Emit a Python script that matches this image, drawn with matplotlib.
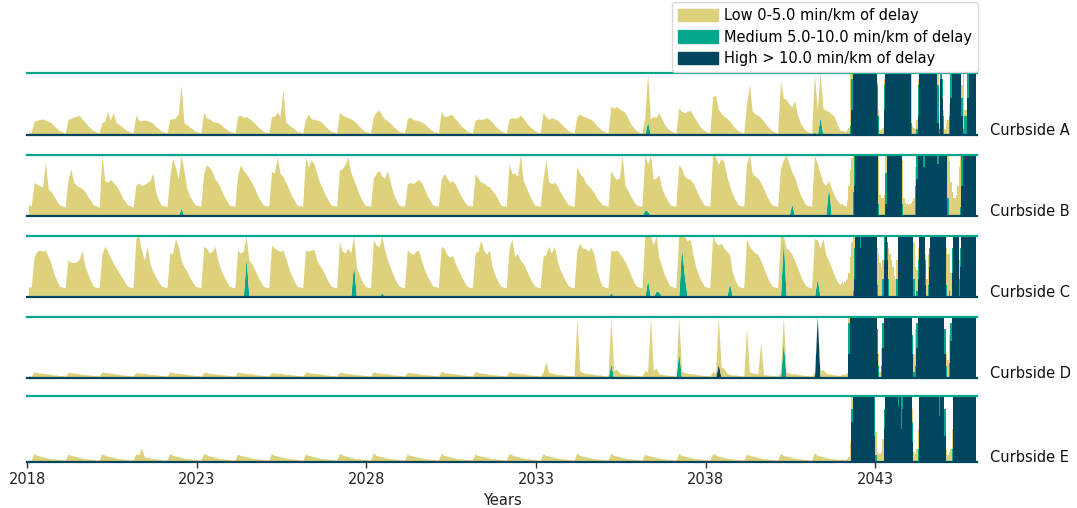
import numpy as np
import matplotlib.pyplot as plt
from matplotlib.patches import Patch

low_color = "#ddd17c"
medium_color = "#03a88b"
high_color = "#01455f"

curbsides = ["Curbside A", "Curbside B", "Curbside C", "Curbside D", "Curbside E"]
tick_years = [2018, 2023, 2028, 2033, 2038, 2043]

# Monthly share of the day in "low" delay (percent), one row per year 2018-2041
a_low = [
    [5, 4, 22, 24, 25, 26, 24, 22, 20, 15, 11, 7],
    [5, 3, 25, 27, 29, 30, 32, 26, 21, 15, 11, 7],
    [5, 3, 20, 22, 38, 24, 36, 20, 17, 14, 10, 7],
    [5, 3, 32, 24, 23, 24, 23, 22, 19, 14, 10, 6],
    [5, 3, 26, 26, 28, 34, 81, 20, 17, 13, 10, 6],
    [5, 3, 37, 27, 26, 22, 21, 20, 17, 13, 10, 6],
    [5, 3, 30, 32, 28, 30, 27, 23, 19, 14, 10, 6],
    [5, 3, 30, 30, 37, 30, 73, 21, 17, 13, 10, 6],
    [5, 3, 26, 34, 26, 25, 24, 23, 19, 14, 10, 6],
    [5, 3, 37, 32, 30, 28, 26, 23, 19, 14, 10, 6],
    [5, 3, 30, 37, 40, 32, 26, 23, 19, 14, 10, 6],
    [5, 3, 26, 29, 25, 24, 23, 21, 18, 14, 10, 6],
    [5, 3, 38, 30, 30, 33, 32, 26, 21, 15, 11, 7],
    [5, 3, 24, 26, 25, 26, 28, 25, 21, 15, 11, 7],
    [5, 3, 26, 28, 27, 28, 32, 27, 21, 15, 11, 7],
    [5, 3, 36, 30, 25, 28, 26, 24, 20, 15, 11, 7],
    [5, 3, 30, 34, 30, 29, 27, 25, 21, 15, 11, 7],
    [5, 3, 46, 43, 46, 42, 40, 36, 28, 18, 12, 7],
    [5, 3, 30, 78, 26, 30, 28, 36, 26, 17, 11, 7],
    [5, 3, 44, 38, 36, 38, 40, 32, 25, 17, 11, 7],
    [5, 3, 62, 64, 42, 35, 30, 27, 23, 16, 11, 7],
    [5, 3, 50, 82, 38, 34, 32, 28, 23, 16, 11, 7],
    [5, 3, 87, 60, 57, 50, 45, 56, 32, 20, 12, 7],
    [5, 3, 93, 40, 71, 43, 40, 38, 34, 30, 18, 8],
]
b_low = [
    [18, 17, 55, 52, 50, 47, 89, 44, 40, 33, 25, 18],
    [17, 14, 60, 77, 55, 50, 48, 45, 40, 32, 25, 18],
    [17, 14, 97, 58, 55, 60, 55, 50, 42, 33, 25, 18],
    [17, 14, 50, 54, 50, 52, 55, 58, 70, 40, 26, 18],
    [17, 15, 64, 95, 80, 60, 87, 75, 45, 33, 25, 18],
    [17, 16, 70, 84, 80, 72, 60, 55, 45, 34, 26, 18],
    [17, 16, 67, 84, 75, 70, 62, 55, 45, 34, 26, 18],
    [17, 16, 73, 70, 97, 70, 65, 55, 45, 34, 26, 18],
    [17, 16, 97, 80, 92, 86, 70, 55, 45, 34, 26, 18],
    [17, 16, 75, 78, 85, 97, 72, 60, 48, 35, 26, 18],
    [17, 16, 62, 70, 75, 65, 62, 75, 55, 38, 27, 18],
    [17, 16, 52, 55, 53, 56, 60, 55, 45, 34, 26, 18],
    [17, 16, 60, 70, 62, 55, 58, 52, 42, 33, 25, 18],
    [17, 16, 70, 62, 56, 54, 50, 48, 42, 36, 28, 18],
    [17, 16, 86, 70, 70, 65, 100, 58, 48, 36, 27, 18],
    [17, 16, 60, 92, 56, 53, 55, 50, 40, 33, 25, 18],
    [17, 16, 81, 70, 65, 55, 50, 45, 38, 30, 24, 18],
    [17, 16, 75, 65, 60, 62, 100, 50, 42, 32, 25, 18],
    [17, 16, 90, 77, 100, 60, 62, 68, 45, 34, 26, 18],
    [17, 16, 84, 78, 65, 62, 60, 55, 45, 34, 26, 18],
    [17, 16, 96, 97, 84, 95, 88, 65, 50, 36, 27, 18],
    [17, 16, 86, 100, 70, 65, 62, 55, 45, 34, 26, 18],
    [17, 16, 78, 92, 100, 86, 52, 64, 48, 35, 26, 18],
    [17, 16, 100, 86, 70, 55, 50, 10, 45, 34, 26, 20],
]
c_low = [
    [17, 16, 66, 75, 77, 75, 77, 66, 55, 38, 27, 18],
    [16, 15, 61, 57, 56, 58, 62, 77, 50, 38, 27, 18],
    [16, 15, 70, 83, 75, 65, 55, 48, 40, 33, 25, 18],
    [16, 15, 96, 100, 77, 60, 83, 55, 42, 33, 25, 18],
    [16, 15, 72, 72, 96, 83, 60, 50, 42, 33, 25, 18],
    [16, 15, 83, 80, 72, 75, 83, 60, 45, 35, 26, 18],
    [16, 15, 77, 72, 75, 36, 60, 55, 45, 35, 26, 18],
    [16, 15, 85, 80, 77, 75, 77, 65, 48, 36, 26, 18],
    [16, 15, 77, 75, 77, 78, 60, 52, 45, 35, 26, 18],
    [16, 15, 91, 75, 72, 80, 72, 45, 50, 36, 26, 18],
    [16, 15, 93, 85, 82, 93, 77, 60, 48, 36, 26, 18],
    [16, 15, 77, 72, 70, 75, 77, 60, 45, 35, 26, 18],
    [17, 16, 83, 80, 70, 65, 68, 55, 45, 35, 26, 18],
    [16, 15, 72, 75, 93, 77, 70, 77, 50, 36, 26, 18],
    [16, 15, 80, 95, 66, 72, 60, 55, 45, 35, 26, 18],
    [16, 15, 66, 70, 83, 72, 83, 60, 45, 35, 26, 18],
    [16, 15, 77, 88, 80, 80, 75, 82, 70, 45, 28, 18],
    [16, 15, 70, 75, 77, 72, 65, 58, 48, 36, 26, 18],
    [16, 15, 100, 72, 100, 85, 90, 57, 50, 36, 26, 18],
    [16, 15, 100, 17, 65, 92, 95, 70, 50, 36, 26, 18],
    [16, 15, 100, 90, 85, 88, 80, 75, 47, 40, 27, 18],
    [16, 15, 96, 83, 77, 72, 70, 60, 48, 36, 26, 18],
    [16, 15, 100, 4, 80, 77, 70, 60, 48, 36, 26, 18],
    [16, 15, 96, 62, 80, 96, 70, 60, 48, 36, 26, 20],
]
d_low = [
    [4, 3, 10, 9, 8, 8, 7, 7, 6, 5, 5, 4],
    [4, 3, 9, 9, 8, 8, 7, 6, 6, 5, 5, 4],
    [4, 3, 10, 9, 9, 8, 7, 7, 6, 5, 5, 4],
    [4, 3, 9, 8, 8, 8, 7, 6, 6, 5, 5, 4],
    [4, 3, 10, 9, 8, 8, 7, 7, 6, 5, 5, 4],
    [4, 3, 9, 9, 8, 7, 7, 6, 6, 5, 5, 4],
    [4, 3, 10, 9, 8, 8, 7, 7, 6, 5, 5, 4],
    [4, 3, 9, 8, 8, 8, 7, 6, 6, 5, 5, 4],
    [4, 3, 10, 9, 8, 8, 7, 7, 6, 5, 5, 4],
    [4, 3, 9, 9, 8, 7, 7, 6, 6, 5, 5, 4],
    [4, 3, 10, 9, 8, 8, 7, 7, 6, 5, 5, 4],
    [4, 3, 9, 9, 8, 8, 7, 6, 6, 5, 5, 4],
    [4, 3, 11, 9, 8, 8, 7, 7, 6, 5, 5, 4],
    [4, 3, 11, 9, 8, 8, 7, 6, 6, 5, 5, 4],
    [4, 3, 11, 9, 8, 8, 7, 7, 6, 5, 5, 4],
    [4, 3, 9, 27, 9, 8, 7, 6, 6, 5, 5, 4],
    [4, 3, 97, 12, 9, 8, 7, 7, 6, 5, 5, 4],
    [4, 3, 77, 12, 15, 8, 7, 6, 6, 5, 5, 4],
    [4, 3, 12, 10, 100, 12, 16, 7, 6, 5, 5, 4],
    [4, 3, 58, 12, 9, 8, 7, 7, 6, 5, 5, 4],
    [4, 3, 10, 9, 77, 18, 16, 8, 6, 5, 5, 4],
    [4, 3, 82, 10, 8, 8, 7, 58, 6, 5, 5, 4],
    [4, 3, 10, 40, 10, 8, 7, 7, 6, 5, 5, 4],
    [4, 3, 10, 0, 12, 14, 8, 7, 6, 5, 5, 4],
]
e_low = [
    [3, 3, 13, 10, 9, 8, 7, 6, 5, 5, 4, 4],
    [3, 3, 12, 10, 9, 8, 7, 6, 5, 5, 4, 4],
    [3, 3, 13, 10, 9, 8, 7, 6, 5, 5, 4, 4],
    [3, 3, 12, 11, 21, 8, 7, 6, 5, 5, 4, 4],
    [3, 3, 13, 10, 9, 8, 7, 6, 5, 5, 4, 4],
    [3, 3, 13, 11, 9, 8, 7, 6, 5, 5, 4, 4],
    [3, 3, 12, 10, 9, 8, 7, 6, 5, 5, 4, 4],
    [3, 3, 13, 10, 9, 8, 7, 6, 5, 5, 4, 4],
    [3, 3, 12, 10, 9, 8, 7, 6, 5, 5, 4, 4],
    [3, 3, 13, 11, 9, 8, 7, 6, 5, 5, 4, 4],
    [3, 3, 14, 10, 9, 8, 7, 6, 5, 5, 4, 4],
    [3, 3, 12, 10, 9, 8, 7, 6, 5, 5, 4, 4],
    [3, 3, 13, 10, 9, 8, 7, 6, 5, 5, 4, 4],
    [3, 3, 12, 10, 9, 8, 7, 6, 5, 5, 4, 4],
    [3, 3, 13, 11, 9, 8, 7, 6, 5, 5, 4, 4],
    [3, 3, 13, 10, 9, 8, 7, 6, 5, 5, 4, 4],
    [3, 3, 14, 10, 9, 8, 7, 6, 5, 5, 4, 4],
    [3, 3, 13, 10, 9, 8, 7, 6, 5, 5, 4, 4],
    [3, 3, 12, 10, 9, 8, 7, 6, 5, 5, 4, 4],
    [3, 3, 13, 10, 9, 8, 7, 6, 5, 5, 4, 4],
    [3, 3, 13, 11, 9, 8, 7, 6, 5, 5, 4, 4],
    [3, 3, 12, 10, 9, 8, 7, 6, 5, 5, 4, 4],
    [3, 3, 13, 10, 9, 8, 7, 6, 5, 5, 4, 4],
    [3, 3, 14, 10, 9, 8, 7, 6, 5, 5, 4, 4],
]

# isolated medium / high days before 2042: (year, month, percent)
a_med_early = [(2036, 4, 22), (2041, 3, 5), (2041, 5, 29)]
b_med_early = [(2020, 3, 3), (2022, 7, 13), (2036, 3, 10), (2036, 4, 8),
               (2038, 3, 4), (2040, 7, 20), (2041, 8, 48)]
c_med_early = [(2024, 6, 64), (2027, 8, 55), (2028, 6, 7), (2035, 3, 7),
               (2036, 4, 28), (2036, 7, 10), (2036, 8, 8), (2037, 4, 83),
               (2037, 5, 35), (2038, 9, 23), (2040, 4, 96), (2041, 4, 31)]
d_med_early = [(2035, 3, 23), (2037, 3, 42), (2040, 4, 60)]
e_med_early = []
a_high_early = []
b_high_early = []
c_high_early = []
d_high_early = [(2038, 5, 23), (2041, 4, 100)]
e_high_early = []

# twice-monthly shares 2042-2045, one row per year (24 half-months)
a_late_low = [
    [.07, .06, .05, .06, .08, .12, .85, .1, 0, 0, 0, 0, 0, 0, 0, 0, 0, 0, 0, 0, 0, 0, 0, 0],
    [0, .05, .1, .08, .08, .12, .1, 0, 0, 0, 0, 0, 0, 0, 0, 0, 0, 0, 0, 0, 0, 0, 0, 0],
    [0, .8, .15, .12, .1, .15, .1, 0, 0, 0, 0, 0, 0, 0, 0, 0, 0, 0, 0, 0, .2, .1, 0, 0],
    [.1, .1, .2, .25, .2, 0, 0, 0, 0, 0, 0, 0, 0, .2, .9, .1, .1, 0, 0, 0, 0, 0, 0, 0],
]
a_late_med = [
    [0, 0, 0, 0, 0, 0, .15, .5, 0, 0, 0, 0, 0, 0, 0, 0, 0, 0, 0, 0, 0, 0, 0, 0],
    [0, .5, .3, 0, 0, 0, .4, 0, 0, 0, 0, 0, 0, 0, 0, 0, 0, 0, 0, 0, 0, 0, 0, 0],
    [0, .2, 0, 0, 0, .1, .5, 0, 0, 0, 0, 0, 0, 0, 0, 0, 0, 0, 0, 0, .6, .1, .1, .3],
    [.3, 0, 0, 0, .3, .4, 0, 0, 0, 0, 0, 0, 0, .3, .1, .3, .3, .4, 0, 0, 0, 0, 0, 0],
]
a_late_high = [
    [0, 0, 0, 0, 0, 0, 0, .4, 1, 1, 1, 1, 1, 1, 1, 1, 1, 1, 1, 1, 1, 1, 1, 1],
    [1, .3, 0, 0, 0, 0, .4, 1, 1, 1, 1, 1, 1, 1, 1, 1, 1, 1, 1, 1, 1, 1, 1, 1],
    [1, 0, 0, 0, 0, 0, .3, 1, 1, 1, 1, 1, 1, 1, 1, 1, 1, 1, 1, 1, .2, 0, .9, .6],
    [0, 0, 0, 0, 0, .6, 1, 1, 1, 1, 1, 1, 1, .3, 0, 0, 0, .6, 1, 1, 1, 1, 1, 1],
]
b_late_low = [
    [.2, .18, .16, .17, .25, .5, .75, .95, .6, 0, 0, 0, 0, 0, 0, 0, 0, 0, 0, 0, 0, 0, 0, 0],
    [0, 0, .8, .35, .3, .3, .35, .3, 0, 0, 0, 0, 0, 0, 0, 0, 0, 0, 0, .7, .3, .22, .2, .18],
    [.2, .22, .25, .3, .3, 0, 0, 0, 0, 0, 0, 0, 0, 0, 0, 0, 0, 0, 0, 0, 0, 0, 0, 0],
    [0, 0, 0, .7, .9, .55, .4, .3, .3, .35, .5, .8, .85, 0, 0, 0, 0, 0, 0, 0, 0, 0, 0, 0],
]
b_late_med = [
    [0, 0, 0, 0, 0, 0, 0, 0, .4, .5, 0, 0, 0, 0, 0, 0, 0, 0, 0, 0, 0, 0, 0, 0],
    [0, 0, .2, 0, 0, 0, 0, .5, 0, 0, 0, 0, 0, 0, 0, 0, 0, 0, 0, .2, 0, 0, 0, 0],
    [0, 0, 0, 0, .5, .4, 0, 0, 0, 0, .2, 0, 0, 0, 0, 0, 0, 0, 0, 0, .15, 0, 0, 0],
    [0, 0, 0, .3, 0, 0, 0, 0, 0, 0, 0, 0, .15, .5, 0, 0, 0, 0, 0, 0, 0, 0, 0, 0],
]
b_late_high = [
    [0, 0, 0, 0, 0, 0, 0, 0, 0, .5, 1, 1, 1, 1, 1, 1, 1, 1, 1, 1, 1, 1, 1, 1],
    [1, 1, 0, 0, 0, 0, 0, .2, 1, 1, 1, 1, 1, 1, 1, 1, 1, 1, 1, 0, 0, 0, 0, 0],
    [0, 0, 0, 0, 0, .6, 1, 1, 1, 1, .8, 1, 1, 1, 1, 1, 1, 1, 1, 1, .85, 1, 1, 1],
    [1, 1, 1, 0, 0, 0, 0, 0, 0, 0, 0, 0, 0, .5, 1, 1, 1, 1, 1, 1, 1, 1, 1, 1],
]
c_late_low = [
    [.25, .22, .25, .28, .3, .4, .65, .9, .9, .2, 0, 0, 0, 0, 0, 0, 0, 0, 0, 0, 0, 0, 0, 0],
    [0, .6, .7, .55, .5, .3, 0, 0, 0, .5, .7, .6, .5, .35, .3, .3, 0, 0, 0, 0, 0, 0, 0, 0],
    [0, 0, 0, .6, .5, .35, .2, 0, 0, 0, 0, .1, .3, .5, 0, 0, 0, 0, 0, 0, 0, 0, 0, 0],
    [0, 0, .6, .7, .6, .4, 0, 0, 0, 0, 0, .3, 0, 0, 0, 0, 0, 0, 0, 0, 0, 0, 0, 0],
]
c_late_med = [
    [0, 0, 0, 0, 0, 0, 0, 0, .1, .5, 0, 0, 0, .2, 0, 0, 0, 0, 0, 0, 0, 0, 0, 0],
    [0, .2, 0, 0, 0, .3, .4, 0, .3, .3, 0, 0, 0, 0, 0, .3, 0, 0, 0, 0, 0, 0, 0, 0],
    [0, 0, 0, .3, 0, .1, .3, 0, 0, 0, 0, .4, 0, .2, .3, 0, 0, 0, 0, 0, 0, 0, 0, 0],
    [0, 0, .2, 0, .1, 0, .4, 0, 0, 0, 0, .3, .3, 0, 0, 0, 0, 0, 0, 0, 0, 0, 0, 0],
]
c_late_high = [
    [0, 0, 0, 0, 0, 0, 0, 0, 0, .3, 1, 1, 1, .8, 1, 1, 1, 1, 1, 1, 1, 1, 1, 1],
    [1, 0, 0, 0, 0, 0, .6, 1, .6, 0, 0, 0, 0, 0, 0, 0, 1, 1, 1, 1, 1, 1, 1, 1],
    [1, 1, 1, 0, 0, 0, .3, 1, 1, 1, 1, .2, 0, 0, .5, 1, 1, 1, 1, 1, 1, 1, 1, 1],
    [1, 1, 0, 0, 0, 0, .4, 1, 1, 1, 1, 0, .5, 1, 1, 1, 1, 1, 1, 1, 1, 1, 1, 1],
]
d_late_low = [
    [.06, .05, .05, .06, .08, .1, 0, 0, 0, 0, 0, 0, 0, 0, 0, 0, 0, 0, 0, 0, 0, 0, 0, 0],
    [0, 0, .2, .1, .3, 0, 0, 0, 0, 0, 0, 0, 0, 0, 0, 0, 0, 0, 0, 0, 0, 0, 0, 0],
    [0, 0, 0, .3, .6, 0, 0, 0, 0, 0, 0, 0, 0, 0, 0, 0, 0, 0, 0, 0, 0, 0, 0, 0],
    [0, 0, .2, .3, .45, 0, 0, 0, 0, 0, 0, 0, 0, 0, 0, 0, 0, 0, 0, 0, 0, 0, 0, 0],
]
d_late_med = [
    [0, 0, 0, 0, 0, .5, 0, 0, 0, 0, 0, 0, 0, 0, 0, 0, 0, 0, 0, 0, 0, 0, 0, 0],
    [0, .4, .2, 0, .2, .4, 0, 0, 0, 0, 0, 0, 0, 0, 0, 0, 0, 0, 0, 0, 0, 0, 0, 0],
    [0, 0, .3, .1, .2, .4, 0, 0, 0, 0, 0, 0, 0, 0, 0, 0, 0, 0, 0, 0, 0, 0, 0, 0],
    [0, .4, .2, 0, .25, .3, 0, 0, 0, 0, 0, 0, 0, 0, 0, 0, 0, 0, 0, 0, 0, 0, 0, 0],
]
d_late_high = [
    [0, 0, 0, 0, 0, .4, 1, 1, 1, 1, 1, 1, 1, 1, 1, 1, 1, 1, 1, 1, 1, 1, 1, 1],
    [1, .4, 0, 0, 0, .5, 1, 1, 1, 1, 1, 1, 1, 1, 1, 1, 1, 1, 1, 1, 1, 1, 1, 1],
    [1, 1, .4, 0, 0, .5, 1, 1, 1, 1, 1, 1, 1, 1, 1, 1, 1, 1, 1, 1, 1, 1, 1, 1],
    [1, .4, 0, 0, 0, .6, 1, 1, 1, 1, 1, 1, 1, 1, 1, 1, 1, 1, 1, 1, 1, 1, 1, 1],
]
e_late_low = [
    [.04, .03, .03, .04, .05, .08, .3, .2, 0, 0, 0, 0, 0, 0, 0, 0, 0, 0, 0, 0, 0, 0, 0, 0],
    [.35, .15, .12, .12, .15, .35, 0, 0, 0, 0, 0, 0, 0, 0, 0, 0, 0, 0, 0, 0, 0, 0, 0, 0],
    [0, 0, .2, .15, .12, .2, .3, 0, 0, 0, 0, 0, 0, 0, 0, 0, 0, 0, 0, 0, 0, 0, 0, 0],
    [0, 0, .2, .1, .15, .2, .3, 0, 0, 0, 0, 0, 0, 0, 0, 0, 0, 0, 0, 0, 0, 0, 0, 0],
]
e_late_med = [
    [0, 0, 0, 0, 0, 0, 0, .2, 0, 0, 0, 0, 0, 0, 0, 0, 0, 0, 0, 0, 0, 0, 0, .6],
    [.1, 0, 0, 0, 0, 0, .3, 0, 0, 0, 0, 0, 0, 0, 0, 0, .15, 0, .5, .2, 0, 0, 0, 0],
    [0, 0, .3, 0, 0, 0, .2, 0, 0, 0, 0, 0, 0, 0, 0, 0, 0, 0, 0, 0, 0, .3, 0, 0],
    [0, .4, 0, 0, 0, 0, .2, 0, 0, 0, 0, 0, 0, 0, 0, 0, 0, 0, 0, 0, 0, 0, 0, 0],
]
e_late_high = [
    [0, 0, 0, 0, 0, 0, 0, .6, 1, 1, 1, 1, 1, 1, 1, 1, 1, 1, 1, 1, 1, 1, 1, .4],
    [0, 0, 0, 0, 0, 0, .5, 1, 1, 1, 1, 1, 1, 1, 1, 1, .85, 1, .5, .8, 1, 1, 1, 1],
    [1, 1, .3, 0, 0, 0, 0, 1, 1, 1, 1, 1, 1, 1, 1, 1, 1, 1, 1, 1, 1, .7, 1, 1],
    [1, .4, 0, 0, 0, 0, 0, 1, 1, 1, 1, 1, 1, 1, 1, 1, 1, 1, 1, 1, 1, 1, 1, 1],
]


def early_spikes(points):
    out = np.zeros(24 * 12)
    for year, month, pct in points:
        out[(year - 2018) * 12 + month - 1] = pct / 100
    return out


def build(low, med_pts, high_pts, late_low, late_med, late_high):
    lo = np.concatenate([np.array(low).ravel() / 100, np.array(late_low).ravel()])
    me = np.concatenate([early_spikes(med_pts), np.array(late_med).ravel()])
    hi = np.concatenate([early_spikes(high_pts), np.array(late_high).ravel()])
    return lo, me, hi


series = [
    build(a_low, a_med_early, a_high_early, a_late_low, a_late_med, a_late_high),
    build(b_low, b_med_early, b_high_early, b_late_low, b_late_med, b_late_high),
    build(c_low, c_med_early, c_high_early, c_late_low, c_late_med, c_late_high),
    build(d_low, d_med_early, d_high_early, d_late_low, d_late_med, d_late_high),
    build(e_low, e_med_early, e_high_early, e_late_low, e_late_med, e_late_high),
]

# mid-month points up to 2041, mid half-month points from 2042
x = np.concatenate([2018 + (np.arange(288) + 0.5) / 12,
                    2042 + (np.arange(96) + 0.5) / 24])
n_early = 288


def stacked(ax, xs, lo, me, hi, step=None):
    ax.fill_between(xs, 0, hi, color=high_color, lw=0, step=step)
    ax.fill_between(xs, hi, hi + me, color=medium_color, lw=0, step=step)
    ax.fill_between(xs, hi + me, hi + me + lo, color=low_color, lw=0, step=step)


fig = plt.figure(figsize=(10.77, 5.08), dpi=100)
W, H = 1077, 508
boxes = [(73, 135), (155, 216), (236, 297), (317, 378), (396, 462)]

for i, (name, (lo, me, hi), (top, bot)) in enumerate(zip(curbsides, series, boxes)):
    ax = fig.add_axes([27 / W, 1 - bot / H, 950 / W, (bot - top) / H])
    # monthly part as a line, twice-monthly part as steps
    e = slice(0, n_early + 1)
    l = slice(n_early, None)
    stacked(ax, x[e], lo[e], me[e], hi[e])
    stacked(ax, x[l], lo[l], me[l], hi[l], step="mid")
    ax.axhline(1, color=medium_color, lw=1.6, clip_on=False)
    ax.axhline(0, color=high_color, lw=1.6, clip_on=False)
    ax.set_xlim(2018, 2046)
    ax.set_ylim(0, 1)
    ax.set_yticks([])
    for s in ax.spines.values():
        s.set_visible(False)
    ax.text(1.0135, 0.0, name, transform=ax.transAxes, fontsize=10.5,
            va="baseline", ha="left", color="#111111")
    if i < 4:
        ax.set_xticks([])
    else:
        ax.set_xticks(tick_years)
        ax.set_xticklabels([str(y) for y in tick_years], fontsize=10.5, color="#222222")
        ax.tick_params(axis="x", length=4, width=1, color="#333333")
        ax.set_xlabel("Years", fontsize=10.5, color="#222222")

handles = [
    Patch(color=low_color, label="Low 0-5.0 min/km of delay"),
    Patch(color=medium_color, label="Medium 5.0-10.0 min/km of delay"),
    Patch(color=high_color, label="High > 10.0 min/km of delay"),
]
fig.legend(handles=handles, loc="lower right", bbox_to_anchor=(978 / W, 1 - 72 / H),
           fontsize=10.5, handlelength=2.75, handleheight=0.95, handletextpad=0.4,
           labelspacing=0.45, borderpad=0.4, borderaxespad=0, framealpha=1,
           edgecolor="#d8d8d8", fancybox=True)

fig.savefig("out.png", dpi=100)
